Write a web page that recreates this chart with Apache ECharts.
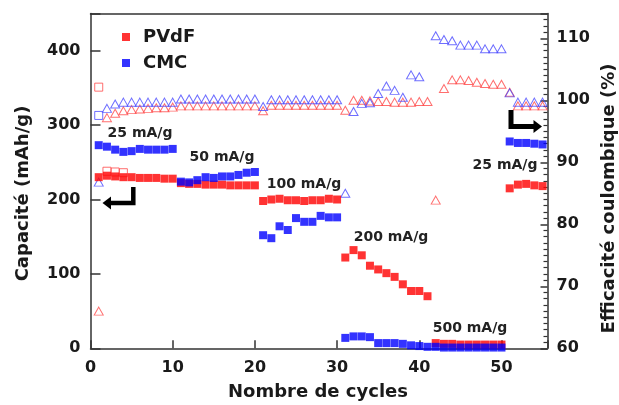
<!DOCTYPE html>
<html>
<head>
<meta charset="utf-8">
<script src="https://cdn.jsdelivr.net/npm/echarts@6/dist/echarts.min.js"></script>
<style>html,body{margin:0;padding:0;background:#fff;}#c{width:619px;height:405px;}</style>
</head>
<body>
<div id="c"></div>
<script>
const cycles = [1,2,3,4,5,6,7,8,9,10,11,12,13,14,15,16,17,18,19,20,21,22,23,24,25,26,27,28,29,30,31,32,33,34,35,36,37,38,39,40,41,42,43,44,45,46,47,48,49,50,51,52,53,54,55];

const pvdfCapacity = [230,232,231,230,230,229,229,229,228,228,
  222,221,221,220,220,220,219,219,219,219,
  198,200,201,199,199,198,199,199,201,200,
  122,132,125,111,106,101,96,86,77,77,70,
  7,6,6,5,5,5,5,5,5,
  215,220,221,219,218];

const cmcCapacity = [273,271,267,264,265,268,267,267,267,268,
  224,223,226,230,229,231,231,233,236,237,
  152,148,164,159,175,170,170,178,176,176,
  14,16,16,15,7,7,7,6,4,3,2,
  2,1,1,1,1,1,1,1,1,
  278,276,276,275,274];

// charge capacities visible as open squares
const pvdfChargeCycles = [1,2,3,4];
const pvdfCharge = [351,238,237,236];
const cmcChargeCycles = [1];
const cmcCharge = [313];

const pvdfEfficiency = [66.0,97.2,97.9,98.3,98.5,98.6,98.7,98.8,98.8,98.9,
  99.1,99.1,99.1,99.1,99.1,99.1,99.1,99.1,99.1,99.1,
  98.3,99.2,99.2,99.2,99.2,99.2,99.2,99.2,99.2,99.2,
  98.4,100.0,100.0,99.9,99.8,99.8,99.7,99.7,99.7,99.8,99.8,
  83.9,101.9,103.3,103.3,103.2,102.9,102.7,102.6,102.6,
  101.3,99.1,99.1,99.1,99.1];

const cmcEfficiency = [86.8,98.7,99.4,99.7,99.7,99.7,99.7,99.7,99.7,99.7,
  100.2,100.2,100.2,100.2,100.2,100.2,100.2,100.2,100.2,100.2,
  99.0,100.1,100.1,100.1,100.1,100.1,100.1,100.1,100.1,100.1,
  85.0,98.2,99.5,99.6,101.1,102.3,101.6,100.5,104.1,103.8,null,
  110.4,109.8,109.6,108.9,108.9,108.9,108.3,108.3,108.3,
  101.2,99.7,99.7,99.7,99.7];

const xTicks = {min: 0, max: 55.6, interval: 10};
const capTicks = {min: 0, max: 450, interval: 100};
const effTicks = {min: 60, max: 114, interval: 10};

const rateLabels = ['25 mA/g','50 mA/g','100 mA/g','200 mA/g','500 mA/g','25 mA/g'];

function pairs(xs, ys) {
  const out = [];
  for (let i = 0; i < xs.length; i++) if (ys[i] != null) out.push([xs[i], ys[i]]);
  return out;
}

const FONT = '"DejaVu Sans", sans-serif';
const AX = '#333';
const TXT = '#1a1a1a';

const chart = echarts.init(document.getElementById('c'), null, {renderer: 'canvas'});

const labelPos = [[140,133],[222,157],[304,184],[391,237],[470,328],[505,165]];

function ls() { return {color: AX, width: 1.5}; }
function onStep(step) { return v => (Math.abs(v / step - Math.round(v / step)) < 1e-6 ? String(v) : ''); }
function lbl(margin, step) {
  return {fontFamily: FONT, fontWeight: 'bold', fontSize: 16, color: TXT, margin: margin, formatter: onStep(step)};
}

chart.setOption({
  animation: false,
  backgroundColor: '#fff',
  grid: {left: 90.5, right: 71.5, top: 13.5, bottom: 56.7},
  legend: {
    data: ['PVdF','CMC'], orient: 'vertical', left: 122, top: 28, padding: 0,
    itemWidth: 8, itemHeight: 8, itemGap: 8, icon: 'rect',
    textStyle: {fontFamily: FONT, fontWeight: 'bold', fontSize: 18, color: TXT, lineHeight: 18, padding: [0,0,0,8]}
  },
  xAxis: [{
    type: 'value', position: 'bottom', min: xTicks.min, max: xTicks.max, interval: xTicks.interval,
    axisLine: {show: true, onZero: false, lineStyle: ls()},
    axisTick: {show: true, inside: true, length: 8, lineStyle: ls()},
    axisLabel: lbl(12, xTicks.interval),
    splitLine: {show: false}
  }, {
    type: 'value', position: 'top', min: xTicks.min, max: xTicks.max, interval: xTicks.interval,
    axisLine: {show: true, onZero: false, lineStyle: ls()},
    axisTick: {show: false}, axisLabel: {show: false}, splitLine: {show: false}
  }],
  yAxis: [{
    type: 'value', position: 'left', min: capTicks.min, max: capTicks.max, interval: capTicks.interval,
    axisLine: {show: true, onZero: false, lineStyle: ls()},
    axisTick: {show: true, inside: true, length: 10, lineStyle: ls()},
    axisLabel: lbl(10, capTicks.interval),
    splitLine: {show: false}
  }, {
    type: 'value', position: 'right', min: effTicks.min, max: effTicks.max, interval: effTicks.interval,
    axisLine: {show: true, onZero: false, lineStyle: ls()},
    axisTick: {show: true, inside: true, length: 7, lineStyle: ls()},
    minorTick: {show: true, splitNumber: 10, length: 4, lineStyle: {color: AX, width: 1.2}},
    axisLabel: lbl(9, effTicks.interval),
    splitLine: {show: false}
  }],
  series: [
    {name: 'PVdF CE', type: 'scatter', yAxisIndex: 1, symbol: 'triangle', symbolSize: [9,8],
     itemStyle: {color: 'rgba(0,0,0,0)', borderColor: '#ff4a4a', borderWidth: 1}, data: pairs(cycles, pvdfEfficiency), z: 2},
    {name: 'CMC CE', type: 'scatter', yAxisIndex: 1, symbol: 'triangle', symbolSize: [9,8],
     itemStyle: {color: 'rgba(0,0,0,0)', borderColor: '#4a4aff', borderWidth: 1}, data: pairs(cycles, cmcEfficiency), z: 2},
    {name: 'PVdF charge', type: 'scatter', yAxisIndex: 0, symbol: 'rect', symbolSize: 8,
     itemStyle: {color: 'rgba(0,0,0,0)', borderColor: '#ff4a4a', borderWidth: 1}, data: pairs(pvdfChargeCycles, pvdfCharge), z: 2},
    {name: 'CMC charge', type: 'scatter', yAxisIndex: 0, symbol: 'rect', symbolSize: 8,
     itemStyle: {color: 'rgba(0,0,0,0)', borderColor: '#4a4aff', borderWidth: 1}, data: pairs(cmcChargeCycles, cmcCharge), z: 2},
    {name: 'PVdF', type: 'scatter', yAxisIndex: 0, symbol: 'rect', symbolSize: 8,
     itemStyle: {color: '#ff0000'}, data: pairs(cycles, pvdfCapacity), z: 3},
    {name: 'CMC', type: 'scatter', yAxisIndex: 0, symbol: 'rect', symbolSize: 8,
     itemStyle: {color: '#0000ff'}, data: pairs(cycles, cmcCapacity), z: 4}
  ],
  graphic: [
    {type: 'text', x: 23, y: 193.5, rotation: Math.PI/2,
     style: {text: 'Capacité (mAh/g)', font: 'bold 18px ' + FONT, fill: TXT, align: 'center', verticalAlign: 'middle'}},
    {type: 'text', x: 609, y: 198.5, rotation: Math.PI/2,
     style: {text: 'Efficacité coulombique (%)', font: 'bold 18px ' + FONT, fill: TXT, align: 'center', verticalAlign: 'middle'}},
    {type: 'text', x: 318, y: 392,
     style: {text: 'Nombre de cycles', font: 'bold 18px ' + FONT, fill: TXT, align: 'center', verticalAlign: 'middle'}}
  ].concat(rateLabels.map((t, i) => ({
    type: 'text', x: labelPos[i][0], y: labelPos[i][1], z: 10,
    style: {text: t, font: 'bold 14px ' + FONT, fill: '#222', align: 'center', verticalAlign: 'middle'}
  }))).concat([
    {type: 'polyline', z: 10, shape: {points: [[133.3,187],[133.3,203],[110,203]]},
     style: {stroke: '#000', lineWidth: 4.5, fill: null, lineJoin: 'miter'}},
    {type: 'polygon', z: 10, shape: {points: [[102.5,203],[111,196.5],[111,209.5]]}, style: {fill: '#000'}},
    {type: 'polyline', z: 10, shape: {points: [[511,110],[511,126.5],[535,126.5]]},
     style: {stroke: '#000', lineWidth: 5, fill: null, lineJoin: 'miter'}},
    {type: 'polygon', z: 10, shape: {points: [[542,126.5],[533.5,120],[533.5,133]]}, style: {fill: '#000'}}
  ])
});
</script>
</body>
</html>
